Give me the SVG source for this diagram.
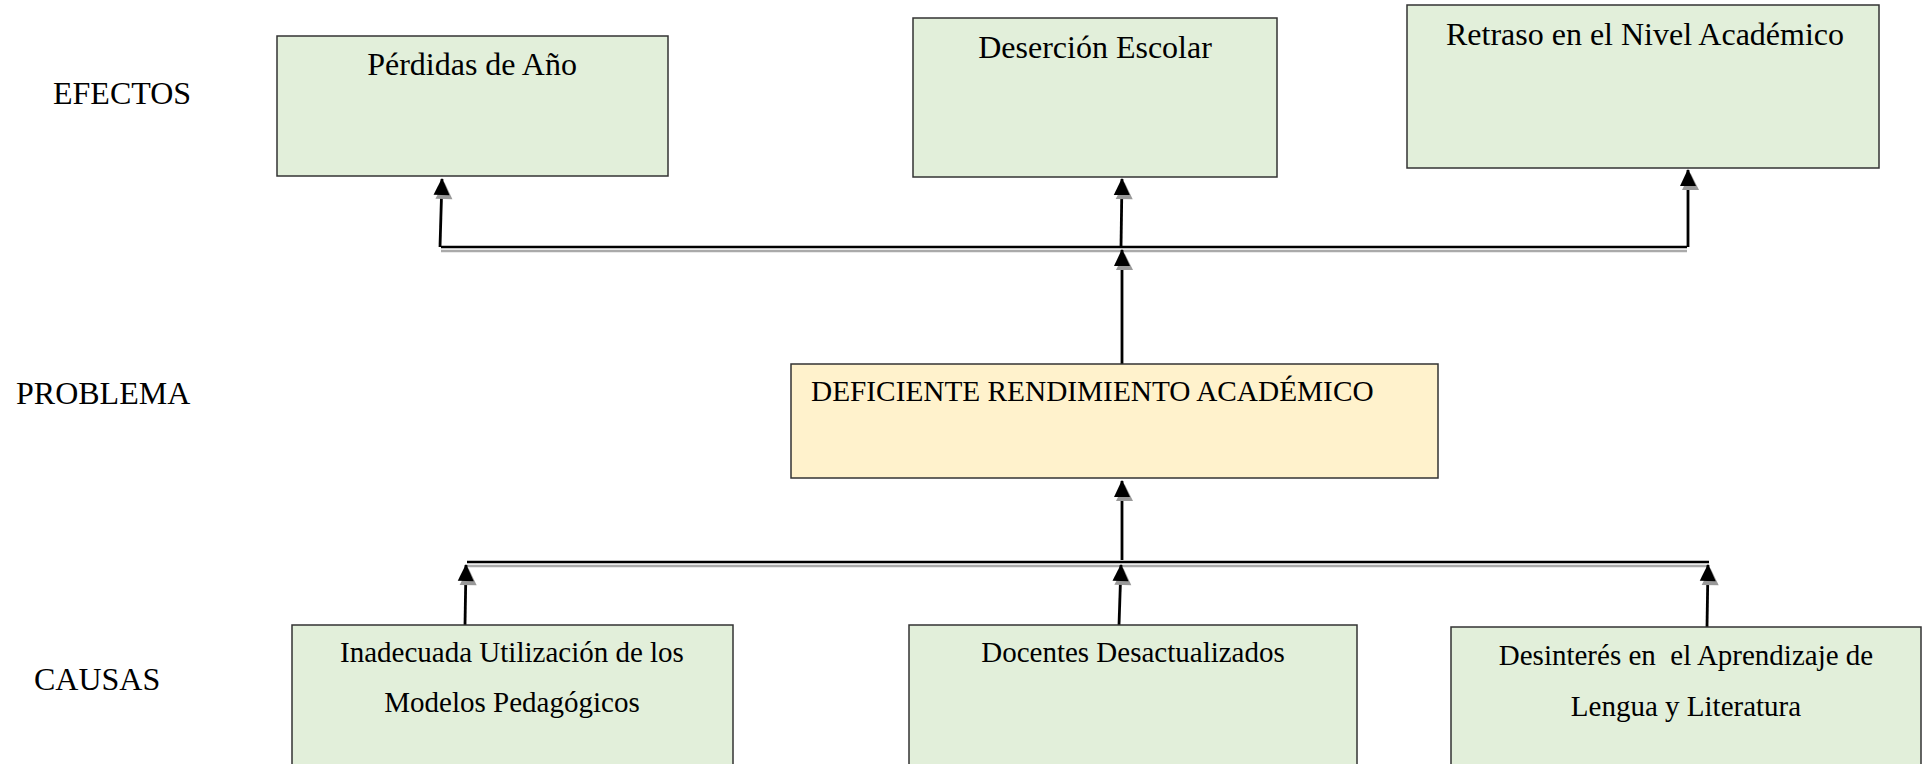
<svg xmlns="http://www.w3.org/2000/svg" width="1928" height="764" viewBox="0 0 1928 764">
<style>
.lbl{font-family:"Liberation Serif","Times New Roman",serif;font-size:32px;fill:#000}
.t32{font-family:"Liberation Serif","Times New Roman",serif;font-size:32px;fill:#000;text-anchor:middle}
.t29{font-family:"Liberation Serif","Times New Roman",serif;font-size:29px;fill:#000;text-anchor:middle;white-space:pre}
.box{fill:#E2EFDA;stroke:#333;stroke-width:1.5}
.prob{fill:#FFF2CC;stroke:#333;stroke-width:1.5}
.bus{stroke:#000;stroke-width:2.4;fill:none}
.shadow{stroke:#AAA;stroke-width:2.6;fill:none}
.arr{stroke:#000;stroke-width:2.8;fill:none;marker-end:url(#ah)}
</style>
<defs>
<marker id="ah" markerUnits="userSpaceOnUse" viewBox="-8 -12 28 24" refX="16" refY="0" markerWidth="28" markerHeight="24" orient="auto" overflow="visible">
<path d="M-4,-6 L13,2.5 L-4,11 z" fill="#999"/>
<path d="M0,-8 L17,0 L0,8 z" fill="#000"/>
</marker>
</defs>
<rect width="1928" height="764" fill="#fff"/>
<g id="labels">
<text class="lbl" x="53" y="104">EFECTOS</text>
<text class="lbl" x="16" y="404">PROBLEMA</text>
<text class="lbl" x="34" y="690">CAUSAS</text>
</g>
<g id="connectors">
<line class="shadow" x1="441" y1="251" x2="1687" y2="251"/>
<line class="bus" x1="441" y1="247" x2="1687" y2="247"/>
<line class="shadow" x1="467" y1="566" x2="1709" y2="566"/>
<line class="bus" x1="467" y1="562" x2="1709" y2="562"/>
<line class="arr" x1="440" y1="247" x2="442" y2="179"/>
<line class="arr" x1="1121" y1="247" x2="1122" y2="179"/>
<line class="arr" x1="1688" y1="247" x2="1688" y2="170"/>
<line class="arr" x1="1122" y1="364" x2="1122" y2="250"/>
<line class="arr" x1="1122" y1="560" x2="1122" y2="481"/>
<line class="arr" x1="465" y1="625" x2="466" y2="565"/>
<line class="arr" x1="1119" y1="625" x2="1121" y2="565"/>
<line class="arr" x1="1707" y1="627" x2="1708" y2="565"/>
</g>
<g id="perdidas">
<rect class="box" x="277" y="36" width="391" height="140"/>
<text class="t32" x="472" y="75">Pérdidas de Año</text>
</g>
<g id="desercion">
<rect class="box" x="913" y="18" width="364" height="159"/>
<text class="t32" x="1095" y="58">Deserción Escolar</text>
</g>
<g id="retraso">
<rect class="box" x="1407" y="5" width="472" height="163"/>
<text class="t32" x="1645" y="45">Retraso en el Nivel Académico</text>
</g>
<g id="problema">
<rect class="prob" x="791" y="364" width="647" height="114"/>
<text class="t29" x="811" y="401" style="text-anchor:start;font-size:29.3px">DEFICIENTE RENDIMIENTO ACADÉMICO</text>
</g>
<g id="inadecuada">
<rect class="box" x="292" y="625" width="441" height="150"/>
<text class="t29" x="512" y="662">Inadecuada Utilización de los</text>
<text class="t29" x="512" y="712">Modelos Pedagógicos</text>
</g>
<g id="docentes">
<rect class="box" x="909" y="625" width="448" height="150"/>
<text class="t29" x="1133" y="662">Docentes Desactualizados</text>
</g>
<g id="desinteres">
<rect class="box" x="1451" y="627" width="470" height="150"/>
<text class="t29" x="1686" y="665">Desinterés en  el Aprendizaje de</text>
<text class="t29" x="1686" y="716">Lengua y Literatura</text>
</g>
</svg>
